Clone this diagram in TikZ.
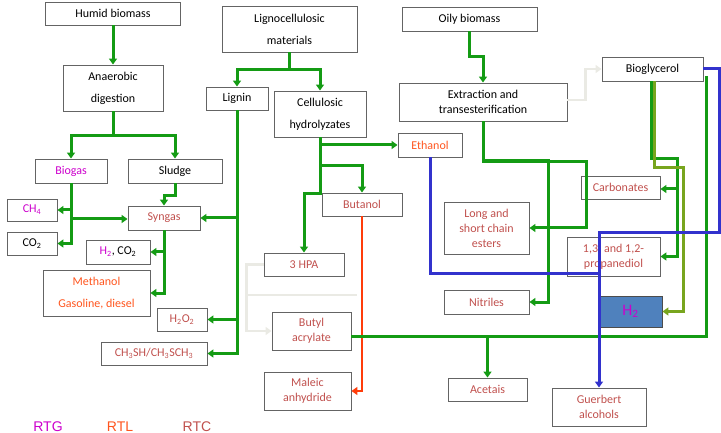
\documentclass[tikz,border=0pt]{standalone}
\usepackage{fontspec}
\setmainfont{Carlito}
\newfontfamily\legendfont{Liberation Sans}
\usetikzlibrary{positioning, calc}
\usetikzlibrary{arrows.meta}
\definecolor{rtg}{RGB}{204,0,204}
\definecolor{rtl}{RGB}{255,85,30}
\definecolor{rtc}{RGB}{192,80,77}
\definecolor{pgreen}{RGB}{20,155,20}
\definecolor{polive}{RGB}{120,165,30}
\definecolor{pblue}{RGB}{50,50,205}
\definecolor{pred}{RGB}{255,60,10}
\definecolor{pgray}{RGB}{234,234,228}
\definecolor{boxgray}{RGB}{100,100,100}
\definecolor{hfill}{RGB}{79,129,189}

\begin{document}
\begin{tikzpicture}[x=1pt,y=-1pt,>={Triangle[length=6pt,width=8pt]},
    font=\fontsize{12}{15}\selectfont,
    gline/.style={draw=pgreen,line width=3pt},
    oline/.style={draw=polive,line width=3pt},
    bline/.style={draw=pblue,line width=3pt},
    rline/.style={draw=pred,line width=2.8pt},
    wline/.style={draw=pgray,line width=2.8pt}]
  \tikzstyle{prod}=[draw=boxgray,line width=0.9pt,align=center,inner sep=1pt]
  \path[use as bounding box] (0,0) rectangle (721,433);

  % feedstocks
  \node[prod,minimum width=135,minimum height=23] (humid) at (113,13.5) {Humid biomass};
  \node[prod,minimum width=135,minimum height=46] (ligno) at (289.5,29) {Lignocellulosic\\[7pt]materials};
  \node[prod,minimum width=135,minimum height=24] (oily) at (469.5,19) {Oily biomass};

  % first steps
  \node[prod,minimum width=100,minimum height=46] (anaer) at (113,88) {Anaerobic\\[7pt]digestion};
  \node[prod,minimum width=62,minimum height=23] (lignin) at (237,98.5) {Lignin};
  \node[prod,minimum width=92,minimum height=46] (cellu) at (320,114) {Cellulosic\\[7pt]hydrolyzates};
  \node[prod,minimum width=168,minimum height=38] (extr) at (483,102) {Extraction and\\transesterification};
  \node[prod,minimum width=101,minimum height=24] (biogly) at (652.5,69) {Bioglycerol};

  % products
  \node[prod,minimum width=72,minimum height=24,text=rtg] (biogas) at (71,171) {Biogas};
  \node[prod,minimum width=94,minimum height=24] (sludge) at (175,171) {Sludge};
  \node[prod,minimum width=50,minimum height=22,text=rtg] (ch4) at (32,210) {CH\textsubscript{4}};
  \node[prod,minimum width=50,minimum height=23] (co2) at (32,243.5) {CO\textsubscript{2}};
  \node[prod,minimum width=72,minimum height=24,text=rtc] (syngas) at (164,218) {Syngas};
  \node[prod,minimum width=64,minimum height=24] (h2co2) at (118,252) {\textcolor{rtg}{H\textsubscript{2}}, CO\textsubscript{2}};
  \node[prod,minimum width=107,minimum height=46,text=rtl] (meth) at (96.5,293) {Methanol\\[7pt]Gasoline, diesel};
  \node[prod,minimum width=50,minimum height=23,text=rtc] (h2o2) at (182,319.5) {H\textsubscript{2}O\textsubscript{2}};
  \node[prod,minimum width=106,minimum height=23,text=rtc] (ch3sh) at (154,353.5) {CH\textsubscript{3}SH/CH\textsubscript{3}SCH\textsubscript{3}};
  \node[prod,minimum width=64,minimum height=24,text=rtl] (ethanol) at (430,145) {Ethanol};
  \node[prod,minimum width=80,minimum height=23,text=rtc] (butanol) at (362,204.5) {Butanol};
  \node[prod,minimum width=80,minimum height=23,text=rtc] (hpa) at (304,264.5) {3 HPA};
  \node[prod,minimum width=79,minimum height=38,text=rtc] (butyl) at (311.5,331) {Butyl\\acrylate};
  \node[prod,minimum width=87,minimum height=38,text=rtc] (maleic) at (307.5,391) {Maleic\\anhydride};
  \node[prod,minimum width=79,minimum height=23,text=rtc] (carb) at (620.5,187.5) {Carbonates};
  \node[prod,minimum width=85,minimum height=52,text=rtc] (esters) at (486.5,228) {Long and\\short chain\\esters};
  \node[prod,minimum width=93,minimum height=39,text=rtc] (prop) at (613.5,256.5) {1,3\enspace and 1,2-\\propanediol};
  \node[prod,minimum width=85,minimum height=24,text=rtc] (nitr) at (486.5,302) {Nitriles};
  \node[prod,minimum width=63,minimum height=31,fill=hfill,draw=black!70,text=rtg,
    font=\fontsize{16}{18}\selectfont] (h2) at (630.5,311.5) {H\textsubscript{2}};
  \node[prod,minimum width=79,minimum height=23,text=rtc] (acet) at (487.5,389.5) {Acetais};
  \node[prod,minimum width=94,minimum height=38,text=rtc] (guer) at (599,407) {Guerbert\\alcohols};

  % legend
  \node[anchor=base,text=rtg,font=\legendfont\fontsize{14}{16}\selectfont] (lrtg) at (48,431) {RTG};
  \node[anchor=base,text=rtl,font=\legendfont\fontsize{14}{16}\selectfont] (lrtl) at (120,431) {RTL};
  \node[anchor=base,text=rtc,font=\legendfont\fontsize{14}{16}\selectfont] (lrtc) at (197,431) {RTC};

  % free ends
  \coordinate (gstub) at (357,295);
  \coordinate (bright) at (719,233);
  \coordinate (bjoin) at (598,273);
  \coordinate (gjoin) at ([yshift=-5pt]butyl.east);

  % humid biomass
  \draw[gline,->] (humid.south) -- (anaer.north);
  \draw[gline,->] (anaer.south) -- ++(0,24) -| (biogas.north);
  \draw[gline,->] (anaer.south) -- ++(0,24) -| (sludge.north);
  \draw[gline,->] (biogas.south) |- (ch4.east);
  \draw[gline,->] (biogas.south) |- (co2.east);
  \draw[gline,->] (biogas.south) |- ([yshift=-1pt]syngas.west);
  \draw[gline,->] (sludge.south) -- ++(0,12) -| (syngas.north);
  \draw[gline,->] (syngas.south) |- (h2co2.east);
  \draw[gline,->] (syngas.south) |- (meth.east);

  % lignocellulosic materials
  \draw[gline,->] (ligno.south) -- ++(0,17) -| (lignin.north);
  \draw[gline,->] (ligno.south) -- ++(0,17) -| (cellu.north);
  \draw[gline,->] (lignin.south) |- (syngas.east);
  \draw[gline,->] (lignin.south) |- (h2o2.east);
  \draw[gline,->] (lignin.south) |- (ch3sh.east);
  \draw[gline,->] (cellu.south) |- (ethanol.west);
  \draw[gline,->] (cellu.south) -- ++(0,28) -| (butanol.north);
  \draw[gline,->] (cellu.south) -- ++(0,56) -| (hpa.north);
  \draw[rline,->] (butanol.south) |- (maleic.east);
  \draw[wline,->] (hpa.west) -- ++(-17,0) |- (butyl.west);
  \draw[wline] (hpa.west) -- ++(-17,0) |- (gstub);

  % oily biomass
  \draw[gline,->] (oily.south) -- ++(0,25) -| (extr.north);
  \draw[wline,->] ([yshift=2pt]extr.east) -- ++(18,0) |- (biogly.west);
  \draw[gline,->] (extr.south) -- ++(0,39) -- ++(65,0) |- (nitr.east);
  \draw[gline,->] (extr.south) -- ++(0,40) -- ++(103,0) |- (esters.east);
  \draw[gline,->] ([xshift=-1.5pt]biogly.south) -- ++(0,77) -- ++(26,0) |- ([yshift=-1.5pt]carb.east);
  \draw[gline,->] ([xshift=-1.5pt]biogly.south) -- ++(0,77) -- ++(26,0) |- (prop.east);
  \draw[oline,->] ([xshift=2pt]biogly.south) -- ++(0,86) -- ++(29,0) |- (h2.east);
  \draw[gline] ([shift={(3.5,7)}]biogly.east) |- (gjoin);
  \draw[gline,->] (gjoin -| acet.north) -- (acet.north);
  \draw[bline] (ethanol.south) |- (bjoin);
  \draw[bline,->] (biogly.east) -| (bright) -| (guer.north);
\end{tikzpicture}
\end{document}
